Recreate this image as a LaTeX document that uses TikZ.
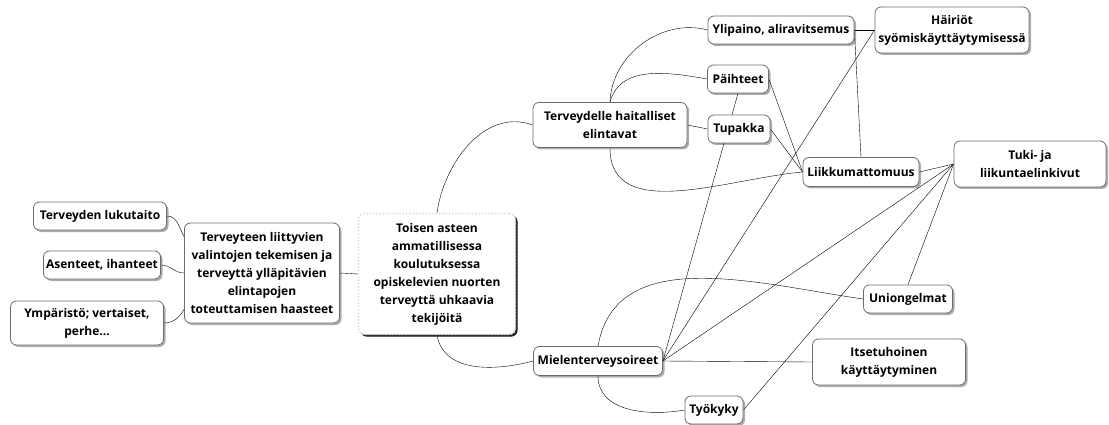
\documentclass[tikz,border=0pt]{standalone}
\usepackage{fontspec}
\setmainfont{Open Sans}
\usetikzlibrary{backgrounds,shadows}
\tikzset{
  topic/.style={draw=gray!85!black, fill=white, rounded corners=6pt, line width=0.8pt,
    align=center, inner sep=2pt, font=\bfseries\fontsize{12}{18}\selectfont,
    drop shadow={shadow xshift=2pt, shadow yshift=-2pt, opacity=0.4, fill=black!80}},
  central/.style={topic, draw=gray!35, dash pattern=on 1.3pt off 2pt, line width=1.3pt,
    drop shadow={shadow xshift=2pt, shadow yshift=-2pt, opacity=0.9, fill=black!90}},
  link/.style={draw=gray!85, line width=0.9pt},
}

\begin{document}
\begin{tikzpicture}[x=1pt, y=-1pt]
    \useasboundingbox (0,0) rectangle (1109,425);

    % left branch
    \node [central, minimum width=157, minimum height=121] (main) at (437,274)
      {Toisen asteen\\ ammatillisessa\\ koulutuksessa\\ opiskelevien nuorten\\ terveyttä uhkaavia\\ tekijöitä};
    \node [topic, minimum width=155, minimum height=100] (haasteet) at (262,273)
      {Terveyteen liittyvien\\ valintojen tekemisen ja\\ terveyttä ylläpitävien\\ elintapojen\\ toteuttamisen haasteet};
    \node [topic, minimum width=133, minimum height=28] (luku) at (100,216) {Terveyden lukutaito};
    \node [topic, minimum width=117, minimum height=28] (asenteet) at (102,265) {Asenteet, ihanteet};
    \node [topic, minimum width=153, minimum height=44] (ymparisto) at (87,323) {Ympäristö; vertaiset,\\ perhe...};

    % upper branch
    \node [topic, minimum width=154, minimum height=45] (elintavat) at (610,125) {Terveydelle haitalliset\\ elintavat};
    \node [topic, minimum width=146, minimum height=28] (ylipaino) at (781,30) {Ylipaino, aliravitsemus};
    \node [topic, minimum width=61, minimum height=28] (paihteet) at (738,79) {Päihteet};
    \node [topic, minimum width=62, minimum height=28] (tupakka) at (739,129) {Tupakka};
    \node [topic, minimum width=154, minimum height=46] (hairiot) at (952,30) {Häiriöt\\ syömiskäyttäytymisessä};
    \node [topic, minimum width=116, minimum height=29] (liikk) at (861,172) {Liikkumattomuus};
    \node [topic, minimum width=152, minimum height=46] (tuki) at (1030,164) {Tuki- ja\\ liikuntaelinkivut};

    % lower branch
    \node [topic, minimum width=129, minimum height=29] (mieli) at (598,361) {Mielenterveysoireet};
    \node [topic, minimum width=89, minimum height=28] (uni) at (908,299) {Uniongelmat};
    \node [topic, minimum width=153, minimum height=46] (itsetuho) at (889,362) {Itsetuhoinen\\ käyttäytyminen};
    \node [topic, minimum width=58, minimum height=28] (tyokyky) at (714,410) {Työkyky};

    % connectors
    \begin{scope}[on background layer, link]
      \draw (haasteet.east) -- (main.west);
      \draw (luku.east) to[out=0,in=120] (haasteet.155);
      \draw (asenteet.east) to[out=0,in=180] (haasteet.west);
      \draw (ymparisto.east) to[out=0,in=240] (haasteet.205);
      \draw (main.north) to[out=82,in=160] (elintavat.west);
      \draw (main.south) to[out=-80,in=195] (mieli.west);

      \draw (elintavat.north) to[out=88,in=165] (ylipaino.west);
      \draw (elintavat.north) to[out=75,in=170] (paihteet.west);
      \draw (elintavat.east) -- (tupakka.west);
      \draw (elintavat.south) to[out=-90,in=185] (liikk.west);
      \draw (ylipaino.east) -- (hairiot.west);
      \draw (ylipaino.east) -- (liikk.north);
      \draw (paihteet.east) -- (liikk.west);
      \draw (tupakka.east) -- (liikk.west);
      \draw (liikk.east) -- (tuki.west);

      \draw (hairiot.west) -- (mieli.east);
      \draw (paihteet.south) -- (mieli.east);
      \draw (tuki.west) -- (mieli.east);
      \draw (tuki.west) -- (uni.north);
      \draw (tuki.west) -- (tyokyky.east);
      \draw (mieli.north) to[out=80,in=172] (uni.west);
      \draw (mieli.east) -- (itsetuho.west);
      \draw (mieli.south) to[out=-90,in=190] (tyokyky.west);
    \end{scope}
\end{tikzpicture}
\end{document}
